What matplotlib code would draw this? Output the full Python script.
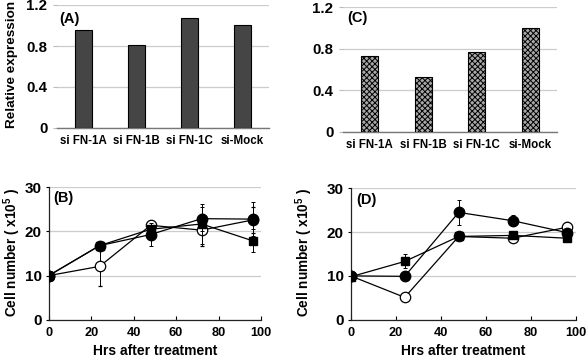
import matplotlib
matplotlib.use("Agg")
import matplotlib.pyplot as plt
import numpy as np

plt.rcParams['font.family'] = ['Liberation Sans', 'DejaVu Sans']
plt.rcParams['font.weight'] = 'bold'
plt.rcParams['mathtext.fontset'] = 'custom'
plt.rcParams['mathtext.rm'] = 'Liberation Sans:bold'
plt.rcParams['mathtext.bf'] = 'Liberation Sans:bold'
plt.rcParams['hatch.linewidth'] = 0.7
plt.rcParams['hatch.color'] = '#3a3a3a'

# ---- data ----
categories = ['si FN-1A', 'si FN-1B', 'si FN-1C', 'si-Mock']
expr_A = [0.96, 0.81, 1.07, 1.00]
expr_C = [0.73, 0.53, 0.77, 1.00]
bar_yticks = [0, 0.4, 0.8, 1.2]
bar_yticklabels = ['0', '0.4', '0.8', '1.2']

hours = [0, 24, 48, 72, 96]
B_filled = [10.0, 16.8, 19.3, 22.9, 22.8]
B_filled_err = [0, 0.5, 2.7, 2.7, 3.8]
B_square = [10.0, 16.8, 20.5, 21.7, 17.9]
B_square_err = [0, 0.5, 0.8, 4.5, 2.6]
B_open = [10.0, 12.1, 21.4, 20.3, 22.6]
B_open_err = [0, 4.4, 0.8, 3.6, 3.0]

D_filled = [10.0, 9.9, 24.5, 22.6, 19.9]
D_filled_err = [0, 0.5, 2.9, 1.2, 0.5]
D_square = [9.8, 13.3, 19.0, 19.25, 18.6]
D_square_err = [0, 1.6, 0.4, 0.4, 0.4]
D_open = [10.0, 5.1, 19.0, 18.6, 21.1]
D_open_err = [0, 0.4, 0.4, 0.4, 1.3]

line_yticks = [0, 10, 20, 30]
line_xticks = [0, 20, 40, 60, 80, 100]

W, H = 586, 359
fig = plt.figure(figsize=(W / 100, H / 100), dpi=100)


def ax_px(left, right, top, bottom):
    return fig.add_axes([left / W, 1 - bottom / H, (right - left) / W, (bottom - top) / H])


def bar_panel(ax, vals, label, hatched, lab_xy):
    x = np.arange(len(categories))
    if hatched:
        ax.bar(x, vals, width=0.32, color='#a8a8a8', edgecolor='black', linewidth=0.8,
               hatch='xxxxxx', zorder=3)
    else:
        ax.bar(x, vals, width=0.32, color='#454545', edgecolor='black', linewidth=0.8, zorder=3)
    ax.set_xlim(-0.5, 3.5)
    ax.set_ylim(0, 1.2)
    ax.set_yticks(bar_yticks)
    ax.set_yticklabels(bar_yticklabels, fontsize=10.8, fontweight='bold')
    ax.set_xticks(x)
    ax.set_xticklabels(categories, fontsize=8.3, fontweight='bold')
    ax.tick_params(axis='x', length=0, pad=5)
    ax.tick_params(axis='y', length=3, color='#bbbbbb', pad=4)
    for s in ['top', 'right', 'left']:
        ax.spines[s].set_visible(False)
    ax.spines['bottom'].set_color('#777777')
    ax.spines['bottom'].set_linewidth(1.0)
    ax.yaxis.grid(True, color='#cccccc', linewidth=0.9, zorder=0)
    ax.set_axisbelow(True)
    ax.text(lab_xy[0], lab_xy[1], label, transform=ax.transAxes, fontsize=10.5,
            fontweight='bold', va='center', ha='left')


def line_panel(ax, f, fe, s, se, o, oe, label, lab_xy, ylab_x):
    kw = dict(color='black', linewidth=0.9, ecolor='black', elinewidth=0.7, capsize=1.5, capthick=0.7)
    ax.errorbar(hours, o, yerr=oe, marker='o', markersize=7.5, markerfacecolor='white',
                markeredgecolor='black', markeredgewidth=0.9, zorder=3, **kw)
    ax.errorbar(hours, f, yerr=fe, marker='o', markersize=7.5, markerfacecolor='black',
                markeredgecolor='black', zorder=4, **kw)
    ax.errorbar(hours, s, yerr=se, marker='s', markersize=6.3, markerfacecolor='black',
                markeredgecolor='black', zorder=5, **kw)
    ax.set_xlim(0, 100)
    ax.set_ylim(0, 30)
    ax.set_xticks(line_xticks)
    ax.set_yticks(line_yticks)
    ax.set_xticklabels([str(t) for t in line_xticks], fontsize=9.2, fontweight='bold')
    ax.set_yticklabels([str(t) for t in line_yticks], fontsize=11, fontweight='bold')
    ax.tick_params(axis='x', direction='in', length=3, width=0.8, pad=5)
    ax.tick_params(axis='y', direction='out', length=2, width=0.8, pad=3)
    for sp in ['top', 'right']:
        ax.spines[sp].set_visible(False)
    for sp in ['left', 'bottom']:
        ax.spines[sp].set_color('#222222')
        ax.spines[sp].set_linewidth(0.9)
    ax.yaxis.grid(True, color='#cccccc', linewidth=0.9, zorder=0)
    ax.set_axisbelow(True)
    ax.set_xlabel('Hrs after treatment', fontsize=10, fontweight='bold', labelpad=4)
    ax.set_ylabel('Cell number ( x10$^{5}$ )', fontsize=9.8, fontweight='bold')
    ax.yaxis.set_label_coords(ylab_x, 0.51)
    ax.text(lab_xy[0], lab_xy[1], label, transform=ax.transAxes, fontsize=10.5,
            fontweight='bold', va='center', ha='left')


axA = ax_px(57, 269, 5, 128)
bar_panel(axA, expr_A, '(A)', False, (0.01, 0.89))
axA.set_ylabel('Relative expression', fontsize=9.7, fontweight='bold')
axA.yaxis.set_label_coords(-0.185, 0.52)

axC = ax_px(343, 557, 7.3, 131.7)
bar_panel(axC, expr_C, '(C)', True, (0.02, 0.91))

axB = ax_px(48.7, 261, 187.3, 319.8)
line_panel(axB, B_filled, B_filled_err, B_square, B_square_err, B_open, B_open_err,
           '(B)', (0.02, 0.92), -0.12)

axD = ax_px(350.7, 575.7, 188.3, 319.7)
line_panel(axD, D_filled, D_filled_err, D_square, D_square_err, D_open, D_open_err,
           '(D)', (0.024, 0.91), -0.16)

fig.savefig('out.png', dpi=100, facecolor='white')
